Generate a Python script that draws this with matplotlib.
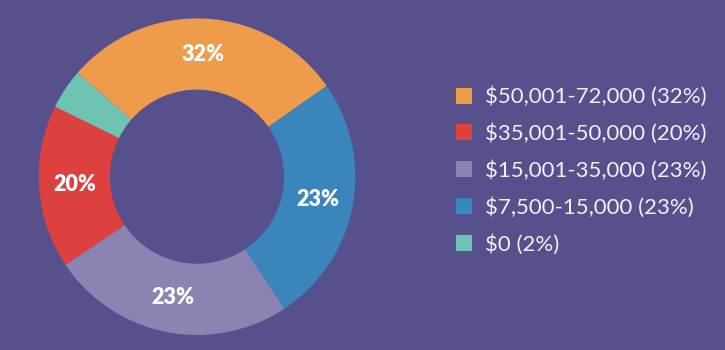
import numpy as np
import matplotlib
matplotlib.use("Agg")
import matplotlib.pyplot as plt
from matplotlib.patches import Rectangle

# ===== DATA =====
# legend order
brackets = ["$50,001-72,000", "$35,001-50,000", "$15,001-35,000", "$7,500-15,000", "$0"]
printed_pct = [32, 20, 23, 23, 2]            # percentages written on the chart
drawn_share = [28.9, 16.7, 24.9, 25.4, 4.1]  # arc sizes as drawn in the picture
colors = ["#EE9B4C", "#DC413F", "#8B84B3", "#3A86BC", "#6FC3B2"]
show_label = [True, True, True, True, False]

# ring order, counterclockwise starting from the orange slice
ring_order = [0, 4, 1, 2, 3]

BG = "#56508C"
TXT = "#F2F0F7"

plt.rcParams["font.family"] = ["Lato", "DejaVu Sans"]
plt.rcParams["text.parse_math"] = False

fig = plt.figure(figsize=(7.25, 3.5), dpi=100, facecolor=BG)

# ===== DONUT =====
W, H = 725, 350
cx, cy, R = 197, 176.7, 158.3
ax = fig.add_axes([(cx - R) / W, (H - cy - R) / H, 2 * R / W, 2 * R / H])
ax.set_facecolor(BG)

vals = [drawn_share[i] for i in ring_order]
cols = [colors[i] for i in ring_order]
wedges, _ = ax.pie(vals, colors=cols, startangle=34.96, counterclock=True,
                   radius=1.0, wedgeprops=dict(width=0.45, linewidth=0))
ax.set_xlim(-1, 1)
ax.set_ylim(-1, 1)
ax.set_aspect("equal")
ax.axis("off")

# percentage labels at the middle of each wedge
for w, i in zip(wedges, ring_order):
    if not show_label[i]:
        continue
    mid = np.deg2rad((w.theta1 + w.theta2) / 2)
    rr = 0.775
    ax.text(rr * np.cos(mid), rr * np.sin(mid), f"{printed_pct[i]}%",
            ha="center", va="center", color="white", fontsize=15.5,
            fontweight="heavy")

# ===== LEGEND =====
y0, step = 103, 36.9
for k, (lab, p, c) in enumerate(zip(brackets, printed_pct, colors)):
    yb = y0 + k * step
    fig.patches.append(Rectangle((456 / W, 1 - (yb + 0.5) / H), 16 / W, 16 / H,
                                 transform=fig.transFigure, facecolor=c,
                                 edgecolor="none"))
    fig.text(485 / W, 1 - yb / H, f"{lab} ({p}%)", color=TXT, fontsize=16,
             fontweight="normal", ha="left", va="baseline")

fig.savefig("out.png", dpi=100, facecolor=BG)
